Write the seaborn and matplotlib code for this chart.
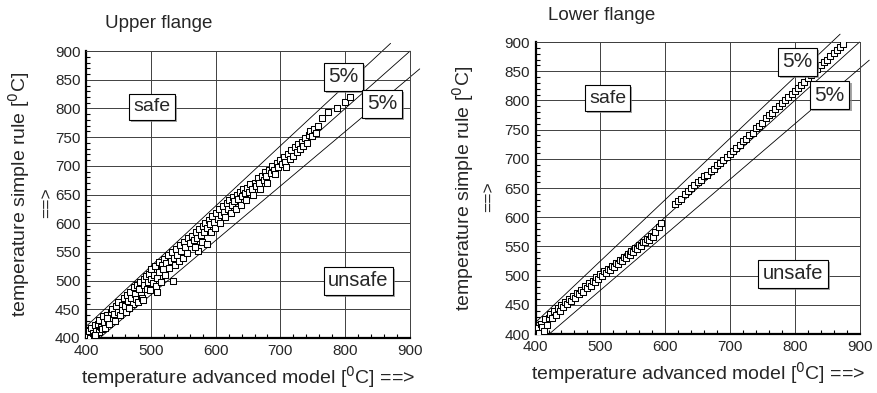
import matplotlib
matplotlib.use("Agg")
import matplotlib.pyplot as plt
import matplotlib.patheffects as pe
from matplotlib.ticker import MultipleLocator
import seaborn as sns
import pandas as pd

# upper flange: advanced model vs simple rule
upper_x = [402, 404, 406, 408, 410, 412, 414, 415, 418, 420, 420, 423, 425, 426, 428, 430, 432, 434, 436, 438,
           440, 440, 443, 445, 447, 449, 450, 452, 455, 456, 458, 460, 462, 463, 465, 467, 468, 470, 472, 474,
           475, 477, 479, 480, 482, 484, 485, 487, 489, 490, 492, 494, 495, 497, 499, 500, 501, 503, 505, 507,
           508, 510, 512, 513, 515, 517, 519, 520, 522, 524, 526, 528, 534, 531, 533, 535, 537, 539, 541, 543,
           545, 547, 549, 551, 553, 556, 558, 573, 561, 563, 566, 568, 570, 572, 575, 577, 579, 580, 582, 584,
           587, 587, 589, 591, 593, 595, 597, 599, 601, 603, 605, 607, 609, 611, 613, 615, 617, 619, 621, 623,
           625, 627, 629, 631, 633, 635, 637, 639, 641, 643, 645, 647, 649, 651, 653, 656, 658, 660, 662, 665,
           667, 669, 672, 674, 676, 678, 680, 683, 685, 687, 690, 692, 695, 697, 699, 702, 705, 707, 709, 712,
           714, 717, 719, 722, 725, 727, 730, 733, 735, 738, 741, 744, 746, 749, 752, 755, 758, 764, 773, 787,
           800, 807, 509, 488, 466, 432, 414]
upper_y = [405, 412, 400, 418, 408, 403, 422, 413, 425, 410, 432, 420, 415, 438, 428, 418, 440, 430, 425, 445,
           435, 450, 442, 430, 455, 446, 462, 440, 458, 448, 470, 455, 445, 475, 465, 452, 480, 470, 460, 488,
           477, 468, 492, 462, 485, 498, 475, 470, 503, 492, 508, 485, 498, 512, 483, 503, 520, 495, 510, 525,
           490, 505, 532, 515, 497, 528, 520, 538, 510, 530, 545, 522, 499, 535, 550, 540, 528, 555, 545, 535,
           562, 552, 540, 568, 558, 548, 575, 552, 565, 578, 570, 558, 585, 575, 590, 580, 568, 596, 585, 600,
           564, 592, 605, 598, 585, 612, 603, 592, 618, 608, 625, 600, 615, 630, 620, 610, 635, 625, 640, 618,
           632, 645, 638, 625, 650, 642, 655, 632, 648, 660, 652, 640, 662, 655, 668, 660, 650, 670, 665, 678,
           670, 660, 683, 675, 690, 682, 670, 693, 688, 700, 692, 685, 705, 698, 710, 703, 715, 707, 698, 720,
           712, 727, 718, 732, 724, 738, 730, 742, 735, 748, 740, 754, 760, 752, 765, 758, 770, 784, 793, 801,
           812, 820, 481, 466, 453, 434, 405]

# lower flange
lower_x = [402, 404, 406, 408, 410, 413, 415, 418, 420, 423, 425, 428, 431, 434, 437, 440, 443, 446, 449, 452,
           455, 458, 461, 464, 467, 470, 473, 476, 479, 482, 485, 488, 491, 494, 497, 500, 503, 506, 509, 512,
           515, 518, 521, 524, 527, 530, 533, 536, 539, 542, 545, 548, 551, 554, 557, 560, 563, 566, 569, 572,
           575, 578, 581, 585, 590, 593, 615, 620, 625, 630, 635, 640, 645, 650, 655, 660, 665, 670, 675, 680,
           685, 690, 695, 700, 705, 710, 715, 720, 725, 730, 735, 740, 745, 750, 755, 760, 765, 770, 775, 780,
           785, 790, 795, 800, 805, 810, 815, 820, 825, 830, 835, 840, 845, 850, 855, 860, 865, 870, 875]
lower_y = [400, 410, 402, 418, 412, 405, 425, 416, 428, 435, 427, 440, 432, 445, 440, 450, 446, 455, 452, 460,
           457, 465, 462, 470, 468, 476, 472, 482, 478, 487, 483, 491, 489, 497, 495, 503, 500, 508, 505, 512,
           510, 517, 515, 522, 520, 527, 525, 532, 530, 537, 536, 543, 541, 547, 546, 553, 551, 558, 557, 563,
           561, 568, 566, 574, 584, 591, 622, 628, 632, 640, 645, 650, 655, 660, 663, 670, 672, 680, 683, 690,
           693, 698, 703, 708, 713, 718, 724, 730, 734, 740, 744, 752, 757, 762, 770, 775, 779, 785, 790, 795,
           800, 806, 811, 816, 821, 827, 832, 838, 843, 849, 854, 860, 865, 870, 876, 881, 886, 892, 897]

panels = [
    dict(name="Upper flange", x=upper_x, y=upper_y, pos=[0.098, 0.140, 0.369, 0.730],
         safe=(502, 803), unsafe=(820, 500), p_up=(797, 855), p_low=(857, 808),
         ylab_x=-0.168, arrow_x=-0.12, title_x=0.06, title_y=1.095),
    dict(name="Lower flange", x=lower_x, y=lower_y, pos=[0.610, 0.150, 0.369, 0.743],
         safe=(511, 804), unsafe=(797, 503), p_up=(804, 866), p_low=(854, 809),
         ylab_x=-0.185, arrow_x=-0.145, title_x=0.037, title_y=1.09),
]

sns.set_style("white")
plt.rcParams["font.family"] = ["Liberation Sans", "DejaVu Sans"]

fig = plt.figure(figsize=(8.78, 3.93), dpi=100)

box = dict(boxstyle="square,pad=0.22", fc="white", ec="black", lw=0.8)


def label_box(ax, xy, s, size):
    t = ax.text(xy[0], xy[1], s, ha="center", va="center", fontsize=size, bbox=box, zorder=6)
    t.get_bbox_patch().set_path_effects([
        pe.withSimplePatchShadow(offset=(1.5, -1.5), shadow_rgbFace="0.5", alpha=0.7)])
    return t


for p in panels:
    ax = fig.add_axes(p["pos"])
    df = pd.DataFrame({"adv": p["x"], "simple": p["y"]})

    # reference lines: +5%, equal, -5%
    ax.plot([400, 870], [420, 913.5], color="black", lw=0.6, clip_on=False, zorder=2)
    ax.plot([400, 900], [400, 900], color="black", lw=0.6, clip_on=False, zorder=2)
    ax.plot([421, 915], [400, 869], color="black", lw=0.6, clip_on=False, zorder=2)

    sns.scatterplot(data=df, x="adv", y="simple", ax=ax, marker="s", s=20,
                    facecolor="white", edgecolor="black", linewidth=0.75, zorder=4)

    ax.set_xlim(400, 900)
    ax.set_ylim(400, 900)
    ax.xaxis.set_major_locator(MultipleLocator(100))
    ax.yaxis.set_major_locator(MultipleLocator(50))
    ax.xaxis.set_minor_locator(MultipleLocator(20))
    ax.yaxis.set_minor_locator(MultipleLocator(10))
    ax.grid(True, which="major", color="0.25", lw=0.7)
    ax.tick_params(which="major", length=0, labelsize=11, pad=4)
    ax.tick_params(which="minor", direction="in", length=3, width=0.8, color="black",
                   bottom=True, left=True)
    for side in ["left", "bottom"]:
        ax.spines[side].set_linewidth(1.6)
        ax.spines[side].set_color("black")
    for side in ["top", "right"]:
        ax.spines[side].set_linewidth(0.7)
        ax.spines[side].set_color("0.25")

    ax.set_xlabel("temperature advanced model [$^0$C] ==>", fontsize=14, labelpad=5)
    ax.set_ylabel("temperature simple rule [$^0$C]", fontsize=14)
    ax.yaxis.set_label_coords(p["ylab_x"], 0.5)
    ax.text(p["arrow_x"], 0.47, "==>", rotation=90, transform=ax.transAxes,
            ha="center", va="center", fontsize=12.5)
    ax.text(p["title_x"], p["title_y"], p["name"], transform=ax.transAxes,
            ha="left", va="center", fontsize=13.5)

    label_box(ax, p["safe"], "safe", 14)
    label_box(ax, p["unsafe"], "unsafe", 14.5)
    label_box(ax, p["p_up"], "5%", 15)
    label_box(ax, p["p_low"], "5%", 15)

fig.savefig("out.png", dpi=100)
